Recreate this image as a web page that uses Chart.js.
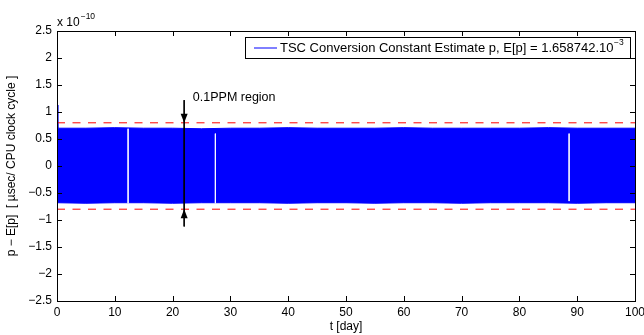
<!DOCTYPE html>
<html lang="en">
<head>
  <meta charset="UTF-8">
  <title>TSC Conversion Constant Estimate</title>
  <script src="https://cdn.jsdelivr.net/npm/chart.js"></script>
  <style>
    body { margin: 0; background: #fff; }
    .wrap { position: relative; width: 644px; height: 335px; }
  </style>
</head>
<body>
  <div class="wrap"><canvas id="tscChart"></canvas></div>

  <script>
    // axis ticks
    const xTicks = [0, 10, 20, 30, 40, 50, 60, 70, 80, 90, 100];
    const yTicks = [-2.5, -2, -1.5, -1, -0.5, 0, 0.5, 1, 1.5, 2, 2.5];

    // envelope of the dense estimate band (units of 1e-10)
    const bandTime  = [0, 0.15, 5, 10, 15, 20, 25, 30, 35, 40, 45, 50, 55, 60, 65, 70, 75, 80, 85, 90, 95, 100];
    const bandUpper = [1.13, 0.70, 0.70, 0.71, 0.70, 0.70, 0.69, 0.70, 0.70, 0.71, 0.70, 0.70, 0.70, 0.71, 0.70, 0.70, 0.70, 0.70, 0.71, 0.70, 0.70, 0.70];
    const bandLower = [-0.68, -0.68, -0.69, -0.68, -0.68, -0.69, -0.68, -0.68, -0.68, -0.69, -0.68, -0.68, -0.69, -0.68, -0.68, -0.69, -0.68, -0.68, -0.68, -0.69, -0.68, -0.68];

    // thin white gaps in the band
    const gapTimes = [12.3, 27.4, 88.6];
    const gapUpper = [0.69, 0.60, 0.60];
    const gapLower = [-0.69, -0.69, -0.65];

    // 0.1PPM region limits and arrows
    const regionLimits = [0.8, -0.8];
    const arrowTime = 22;
    const arrowTails = [1.22, -1.12];
    const arrowTips = [0.8, -0.8];

    const FONT = "'Liberation Sans', Arial, sans-serif";
    Chart.defaults.color = '#000';
    Chart.defaults.font.family = FONT;
    Chart.defaults.font.size = 12;

    const upperPts = bandTime.map((t, i) => ({ x: t, y: bandUpper[i] }));
    const lowerPts = bandTime.map((t, i) => ({ x: t, y: bandLower[i] }));
    const gapPts = [];
    gapTimes.forEach((t, i) => {
      gapPts.push({ x: t, y: gapUpper[i] }, { x: t, y: gapLower[i] }, { x: t, y: null });
    });

    const datasets = [
      { data: upperPts, borderColor: '#0000ff', backgroundColor: '#0000ff', borderWidth: 1, fill: '+1', order: 6 },
      { data: lowerPts, borderColor: '#0000ff', borderWidth: 1, fill: false, order: 5 },
      { data: gapPts, borderColor: 'rgba(255,255,255,0.85)', borderWidth: 1, fill: false, spanGaps: false, order: 4 }
    ];
    regionLimits.forEach(v => {
      datasets.push({ data: [{ x: 0, y: v }, { x: 100, y: v }], borderColor: '#ff0000', borderWidth: 1,
        borderDash: [8, 7.5], fill: false, order: 3 });
    });
    // one shaft running through the band, from the top arrow to the bottom arrow
    datasets.push({ data: [{ x: arrowTime, y: arrowTails[0] }, { x: arrowTime, y: arrowTails[1] }],
      borderColor: '#000', borderWidth: 1, fill: false, order: 2 });

    const decor = {
      id: 'decor',
      afterDraw(chart) {
        const { ctx, chartArea: a, scales: { x, y } } = chart;
        ctx.save();
        // arrowheads
        ctx.fillStyle = '#000';
        arrowTips.forEach((v, i) => {
          const px = x.getPixelForValue(arrowTime);
          const tip = y.getPixelForValue(v);
          const dir = arrowTails[i] > v ? -1 : 1;
          ctx.beginPath();
          ctx.moveTo(px, tip);
          ctx.lineTo(px - 3.5, tip + dir * 9);
          ctx.lineTo(px + 3.5, tip + dir * 9);
          ctx.closePath();
          ctx.fill();
        });
        // region label
        ctx.font = '12.5px ' + FONT;
        ctx.textBaseline = 'middle';
        ctx.textAlign = 'left';
        ctx.fillText('0.1PPM region', x.getPixelForValue(23.5), y.getPixelForValue(1.27));

        // axes box with inward ticks
        ctx.strokeStyle = '#000';
        ctx.lineWidth = 1;
        ctx.strokeRect(a.left + 0.5, a.top + 0.5, a.right - a.left, a.bottom - a.top);
        ctx.beginPath();
        xTicks.forEach(t => {
          const px = Math.round(x.getPixelForValue(t)) + 0.5;
          ctx.moveTo(px, a.bottom); ctx.lineTo(px, a.bottom - 5);
          ctx.moveTo(px, a.top); ctx.lineTo(px, a.top + 5);
        });
        yTicks.forEach(t => {
          const py = Math.round(y.getPixelForValue(t)) + 0.5;
          ctx.moveTo(a.left, py); ctx.lineTo(a.left + 5, py);
          ctx.moveTo(a.right, py); ctx.lineTo(a.right - 5, py);
        });
        ctx.stroke();

        // exponent
        ctx.font = '12px ' + FONT;
        ctx.textBaseline = 'alphabetic';
        ctx.fillText('x 10', a.left, a.top - 5);
        const w = ctx.measureText('x 10').width;
        ctx.font = '8.5px ' + FONT;
        ctx.fillText('\u221210', a.left + w + 1, a.top - 12);

        // legend
        const label = 'TSC Conversion Constant Estimate p, E[p] = 1.658742.10';
        ctx.font = '13px ' + FONT;
        const lw = ctx.measureText(label).width;
        ctx.font = '8.5px ' + FONT;
        const sw = ctx.measureText('\u22123').width;
        const bw = Math.round(35 + lw + sw + 7), bh = 21;
        const bx = Math.round(a.right - 5 - bw), by = Math.round(a.top + 6);
        ctx.fillStyle = '#fff';
        ctx.fillRect(bx, by, bw, bh);
        ctx.strokeRect(bx + 0.5, by + 0.5, bw, bh);
        ctx.strokeStyle = '#0000ff';
        ctx.beginPath();
        ctx.moveTo(bx + 9, by + 11); ctx.lineTo(bx + 32, by + 11);
        ctx.stroke();
        ctx.fillStyle = '#000';
        ctx.font = '13px ' + FONT;
        ctx.textBaseline = 'middle';
        ctx.fillText(label, bx + 35, by + 11.5);
        ctx.font = '8.5px ' + FONT;
        ctx.fillText('\u22123', bx + 35 + lw + 0.5, by + 6);
        ctx.restore();
      }
    };

    new Chart(document.getElementById('tscChart'), {
      type: 'scatter',
      data: { datasets },
      options: {
        responsive: true,
        maintainAspectRatio: false,
        animation: false,
        showLine: true,
        elements: { point: { radius: 0, hoverRadius: 0 }, line: { tension: 0 } },
        layout: { padding: { top: 31, right: 0, left: 0, bottom: 0 } },
        plugins: { legend: { display: false }, tooltip: { enabled: false } },
        scales: {
          x: {
            type: 'linear', min: 0, max: 100,
            afterBuildTicks: s => { s.ticks = xTicks.map(v => ({ value: v })); },
            afterFit: s => { s.height = 34; s.paddingRight = 9; s.paddingLeft = 0; },
            grid: { display: false, drawTicks: false },
            border: { display: false },
            ticks: { padding: 4, maxRotation: 0, callback: v => String(v) },
            title: { display: true, text: 't [day]', padding: { top: 0, bottom: 1 } }
          },
          y: {
            type: 'linear', min: -2.5, max: 2.5,
            afterBuildTicks: s => { s.ticks = yTicks.map(v => ({ value: v })); },
            afterFit: s => { s.width = 57; },
            grid: { display: false, drawTicks: false },
            border: { display: false },
            ticks: { padding: 5, callback: v => String(v).replace('-', '\u2212') },
            title: { display: true, text: 'p \u2212 E[p]  [ \u00b5sec/ CPU clock cycle ]', padding: { top: 4, bottom: 0 } }
          }
        }
      },
      plugins: [decor]
    });
  </script>
</body>
</html>
